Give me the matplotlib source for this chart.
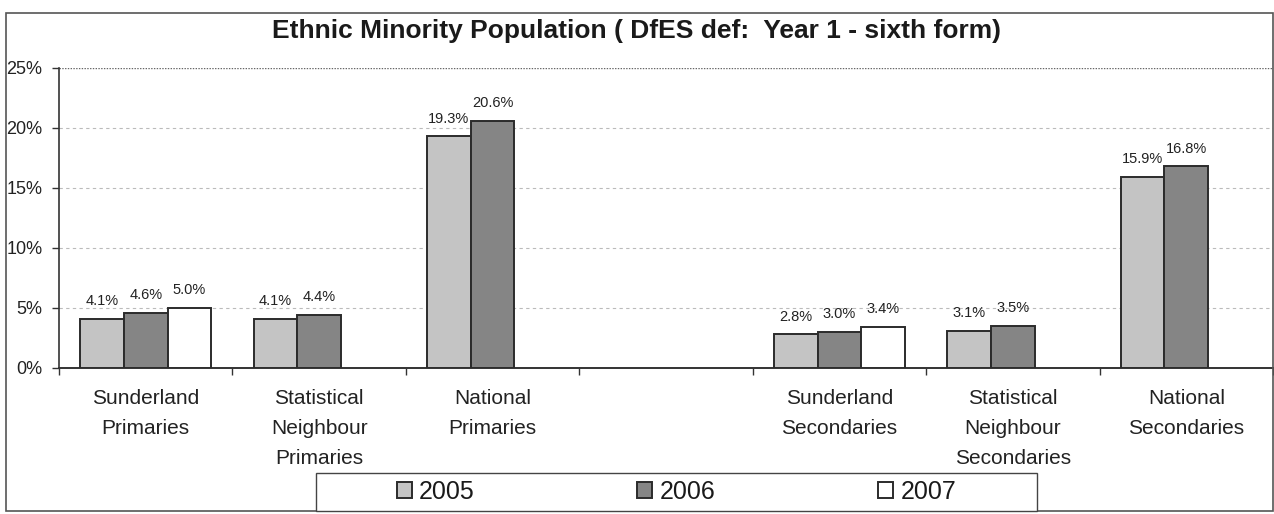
import numpy as np
import matplotlib
matplotlib.use("Agg")
import matplotlib.pyplot as plt
from matplotlib.patches import Rectangle

plt.rcParams['font.family'] = ['Liberation Sans', 'DejaVu Sans']

# Category slots (one blank slot separates primaries from secondaries)
categories = [
    "Sunderland\nPrimaries",
    "Statistical\nNeighbour\nPrimaries",
    "National\nPrimaries",
    "",
    "Sunderland\nSecondaries",
    "Statistical\nNeighbour\nSecondaries",
    "National\nSecondaries",
]
years = ["2005", "2006", "2007"]

# Percent of pupils from ethnic minorities
values_2005 = [4.1, 4.1, 19.3, np.nan, 2.8, 3.1, 15.9]
values_2006 = [4.6, 4.4, 20.6, np.nan, 3.0, 3.5, 16.8]
values_2007 = [5.0, np.nan, np.nan, np.nan, 3.4, np.nan, np.nan]

y_ticks = [0, 5, 10, 15, 20, 25]
y_tick_labels = ["0%", "5%", "10%", "15%", "20%", "25%"]

title = "Ethnic Minority Population ( DfES def:  Year 1 - sixth form)"

W, H = 1274, 514
fig = plt.figure(figsize=(W / 100, H / 100), dpi=100)
fig.patch.set_facecolor("white")

# Outer chart frame
fig.patches.append(Rectangle((6 / W, 3 / H), 1267 / W, 498 / H,
                             transform=fig.transFigure, fill=False,
                             edgecolor="#555555", linewidth=1.2, zorder=0))

ax = fig.add_axes([59 / W, 1 - 368 / H, 1214 / W, 300 / H])

series = [values_2005, values_2006, values_2007]
fills = ["#c4c4c4", "#858585", "#ffffff"]
bar_w = 0.252
x = np.arange(len(categories))

bar_handles = []
for i, (vals, col, yr) in enumerate(zip(series, fills, years)):
    pos = x + (i - 1) * bar_w
    vals = np.asarray(vals, dtype=float)
    bars = ax.bar(pos, vals, width=bar_w, color=col, edgecolor="#2b2b2b",
                  linewidth=1.4, label=yr, zorder=3)
    bar_handles.append(bars)
    for p, v in zip(pos, vals):
        if np.isnan(v):
            continue
        ax.annotate(f"{v:.1f}%", xy=(p, v), xytext=(0, 10),
                    textcoords="offset points", ha="center", va="baseline",
                    fontsize=10.5, color="#222222", zorder=4)

ax.set_xlim(-0.5, len(categories) - 0.5)
ax.set_ylim(0, 25)

ax.set_yticks(y_ticks)
ax.set_yticklabels(y_tick_labels, fontsize=13, color="#222222")
ax.tick_params(axis="y", length=5, width=1, color="#333333", pad=7)

# Category labels centred in each slot, ticks on slot boundaries
ax.set_xticks(x)
ax.set_xticklabels(categories, fontsize=15, color="#222222", linespacing=1.75,
                   va="top")
ax.tick_params(axis="x", which="major", length=0, pad=15)
ax.set_xticks(np.arange(-0.5, len(categories) + 0.5, 1), minor=True)
ax.tick_params(axis="x", which="minor", length=5, width=1, color="#333333")

# Horizontal gridlines
for yv in y_ticks[1:-1]:
    ax.axhline(yv, color="#bbbbbb", linewidth=0.8, linestyle=(0, (3, 3)), zorder=1)
ax.axhline(25, color="#666666", linewidth=1.0, linestyle=(0, (1, 1)), zorder=1)

for side in ["top", "right"]:
    ax.spines[side].set_visible(False)
ax.spines["left"].set_color("#333333")
ax.spines["bottom"].set_color("#333333")
ax.spines["left"].set_linewidth(1.2)
ax.spines["bottom"].set_linewidth(1.4)

fig.text(637 / W, 1 - 31 / H, title, ha="center", va="center",
         fontsize=19, fontweight="bold", color="#1a1a1a")

# Legend box along the bottom
lx, ly, lw, lh = 316, 473, 721, 38
fig.patches.append(Rectangle((lx / W, 1 - (ly + lh) / H), lw / W, lh / H,
                             transform=fig.transFigure, fill=True,
                             facecolor="white", edgecolor="#444444",
                             linewidth=1.0, zorder=1))
leg = fig.legend(handles=bar_handles, labels=years, loc="center",
                 bbox_to_anchor=((lx + lw / 2) / W, 1 - (ly + lh / 2) / H),
                 ncol=3, frameon=False, fontsize=18,
                 handlelength=0.6, handleheight=0.6, handletextpad=0.3,
                 columnspacing=6.5, borderpad=0)
for t in leg.get_texts():
    t.set_color("#1a1a1a")

fig.savefig("out.png", dpi=100, facecolor="white")
